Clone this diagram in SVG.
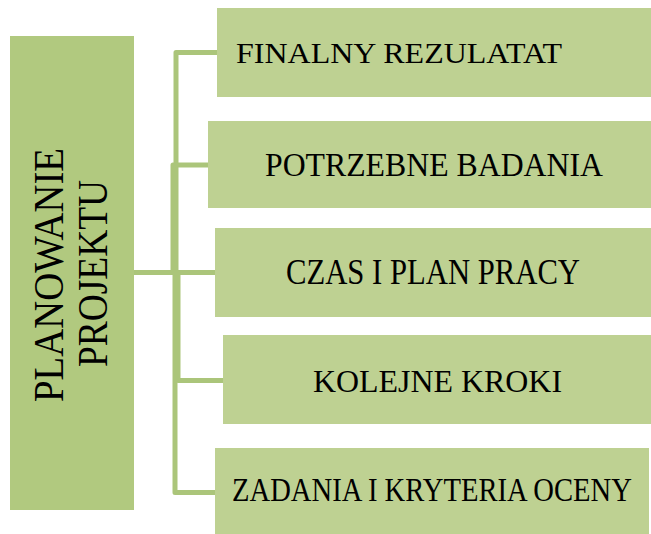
<svg xmlns="http://www.w3.org/2000/svg" width="651" height="534" viewBox="0 0 651 534">
  <style>
    .root { fill: #b1c97f; }
    .item { fill: #bed192; }
    .link { fill: none; stroke: #abc57a; stroke-width: 5; stroke-linejoin: round; stroke-linecap: butt; }
    .lbl { font-family: "Liberation Serif", "Times New Roman", serif; fill: #000; }
  </style>
  <rect width="651" height="534" fill="#ffffff"/>

  <!-- elbow connectors from the root to each step -->
  <g id="connectors">
    <path class="link" d="M134,272.5 H176 V52.5 H217"/>
    <path class="link" d="M134,272.5 H173 V165 H208"/>
    <path class="link" d="M134,272.5 H215"/>
    <path class="link" d="M134,272.5 H178 V380.5 H223"/>
    <path class="link" d="M134,272.5 H175 V492.5 H215"/>
  </g>

  <g id="root">
    <rect class="root" x="10" y="36" width="124" height="474"/>
    <text class="lbl" font-size="42" text-anchor="middle" textLength="254" lengthAdjust="spacingAndGlyphs" transform="translate(63,275) rotate(-90)">PLANOWANIE</text>
    <text class="lbl" font-size="42" text-anchor="middle" textLength="187" lengthAdjust="spacingAndGlyphs" transform="translate(107,273.5) rotate(-90)">PROJEKTU</text>
  </g>

  <g id="step1">
    <rect class="item" x="217" y="8" width="434" height="89"/>
    <text class="lbl" x="236" y="63" font-size="30" textLength="326" lengthAdjust="spacingAndGlyphs">FINALNY REZULATAT</text>
  </g>

  <g id="step2">
    <rect class="item" x="208" y="121" width="443" height="87"/>
    <text class="lbl" x="265" y="176" font-size="34" textLength="338" lengthAdjust="spacingAndGlyphs">POTRZEBNE BADANIA</text>
  </g>

  <g id="step3">
    <rect class="item" x="215" y="228" width="436" height="89"/>
    <text class="lbl" x="286" y="284" font-size="35" textLength="294" lengthAdjust="spacingAndGlyphs">CZAS I PLAN PRACY</text>
  </g>

  <g id="step4">
    <rect class="item" x="223" y="335" width="428" height="89"/>
    <text class="lbl" x="313" y="392" font-size="32" textLength="249" lengthAdjust="spacingAndGlyphs">KOLEJNE KROKI</text>
  </g>

  <g id="step5">
    <rect class="item" x="215" y="448" width="434" height="86"/>
    <!-- condensed horizontally so the long label stays inside its box -->
    <text class="lbl" font-size="33" textLength="466" lengthAdjust="spacingAndGlyphs" transform="translate(232,501) scale(0.858,1)">ZADANIA I KRYTERIA OCENY</text>
  </g>
</svg>
